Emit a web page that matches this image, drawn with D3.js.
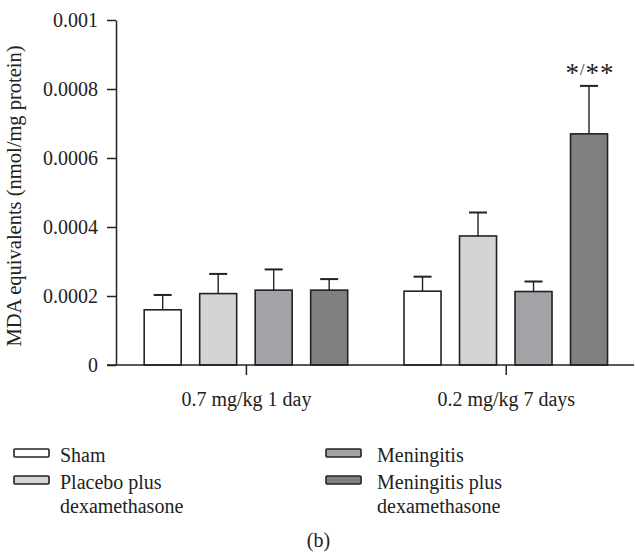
<!DOCTYPE html>
<html>
<head>
<meta charset="utf-8">
<script src="https://cdn.jsdelivr.net/npm/d3@7/dist/d3.min.js"></script>
<style>
  html, body { margin: 0; padding: 0; background: #fff; }
  svg { display: block; }
  text { font-family: "Liberation Serif", "Times New Roman", serif; fill: #222; }
</style>
</head>
<body>
<svg id="chart" width="635" height="559"></svg>
<script>
// ---- data ----
const groups = ["0.7 mg/kg 1 day", "0.2 mg/kg 7 days"];
const series = ["Sham", "Placebo plus dexamethasone", "Meningitis", "Meningitis plus dexamethasone"];
const legendLines = [["Sham"], ["Placebo plus", "dexamethasone"], ["Meningitis"], ["Meningitis plus", "dexamethasone"]];
const shamMean = [0.000160, 0.000214];
const placeboMean = [0.000207, 0.000374];
const meningitisMean = [0.000217, 0.000213];
const meningitisDexMean = [0.000217, 0.000670];
const shamErr = [0.000043, 0.000042];
const placeboErr = [0.000057, 0.000068];
const meningitisErr = [0.000060, 0.000029];
const meningitisDexErr = [0.000032, 0.000139];
const yTicks = [0, 0.0002, 0.0004, 0.0006, 0.0008, 0.001];
const yTickLabels = ["0", "0.0002", "0.0004", "0.0006", "0.0008", "0.001"];
const annotation = { group: "0.2 mg/kg 7 days", series: "Meningitis plus dexamethasone", parts: ["*", "/", "**"] };

const means = [shamMean, placeboMean, meningitisMean, meningitisDexMean];
const errs = [shamErr, placeboErr, meningitisErr, meningitisDexErr];
const colors = ["#ffffff", "#d4d4d4", "#a2a3a6", "#808080"];

const data = [];
groups.forEach((g, gi) => series.forEach((s, si) => {
  data.push({ group: g, series: s, si, value: means[si][gi], err: errs[si][gi] });
}));

// ---- layout ----
const svg = d3.select("#chart");
const axisX = 116, baseY = 365, topY = 20, rightX = 634;

const y = d3.scaleLinear().domain([0, 0.001]).range([baseY, topY]);
const x0 = d3.scalePoint().domain(groups).range([axisX, 635.7]).padding(0.5);
const x1 = d3.scaleBand().domain(series).range([-111, 111]).paddingInner(1/3).paddingOuter(1/6);

const ink = "#222";

// bars
svg.append("g").selectAll("rect").data(data).join("rect")
  .attr("x", d => x0(d.group) + x1(d.series))
  .attr("y", d => y(d.value))
  .attr("width", x1.bandwidth())
  .attr("height", d => y(0) - y(d.value))
  .attr("fill", d => colors[d.si])
  .attr("stroke", ink)
  .attr("stroke-width", 1.6);

// error bars
const eg = svg.append("g");
eg.selectAll("line.stem").data(data).join("line")
  .attr("class", "stem")
  .attr("x1", d => x0(d.group) + x1(d.series) + x1.bandwidth() / 2)
  .attr("x2", d => x0(d.group) + x1(d.series) + x1.bandwidth() / 2)
  .attr("y1", d => y(d.value))
  .attr("y2", d => y(d.value + d.err))
  .attr("stroke", ink).attr("stroke-width", 1.4);
eg.selectAll("line.cap").data(data).join("line")
  .attr("class", "cap")
  .attr("x1", d => x0(d.group) + x1(d.series) + x1.bandwidth() / 2 - 9)
  .attr("x2", d => x0(d.group) + x1(d.series) + x1.bandwidth() / 2 + 9)
  .attr("y1", d => y(d.value + d.err))
  .attr("y2", d => y(d.value + d.err))
  .attr("stroke", ink).attr("stroke-width", 2);

// y axis
const yAxis = d3.axisLeft(y).tickValues(yTicks).tickFormat((d, i) => yTickLabels[i])
  .tickSizeInner(9).tickSizeOuter(0).tickPadding(9);
const yg = svg.append("g").attr("transform", `translate(${axisX},0)`).call(yAxis);
yg.attr("font-family", null);
yg.select(".domain").attr("stroke", ink).attr("stroke-width", 1.5);
yg.selectAll(".tick line").attr("stroke", ink).attr("stroke-width", 1.5);
yg.selectAll(".tick text").attr("font-size", 20).attr("fill", ink);

// x axis
svg.append("line").attr("x1", 107).attr("x2", rightX).attr("y1", baseY).attr("y2", baseY)
  .attr("stroke", ink).attr("stroke-width", 1.5);
const xAxis = d3.axisBottom(x0).tickSizeInner(10).tickSizeOuter(0).tickPadding(17);
const xg = svg.append("g").attr("transform", `translate(0,${baseY})`).call(xAxis);
xg.attr("font-family", null);
xg.select(".domain").remove();
xg.selectAll(".tick line").attr("stroke", ink).attr("stroke-width", 1.5);
xg.selectAll(".tick text").attr("font-size", 20).attr("fill", ink);

// y label
svg.append("text")
  .attr("transform", `translate(21,196) rotate(-90)`)
  .attr("text-anchor", "middle")
  .attr("font-size", 20.5)
  .text("MDA equivalents (nmol/mg protein)");

// annotation
const ad = data.find(d => d.group === annotation.group && d.series === annotation.series);
const at = svg.append("text")
  .attr("x", x0(ad.group) + x1(ad.series) + x1.bandwidth() / 2 + 1)
  .attr("y", y(ad.value + ad.err) - 4)
  .attr("text-anchor", "middle")
  .attr("font-size", 27)
  .attr("fill", "#333");
at.append("tspan").attr("letter-spacing", 1).text(annotation.parts[0]);
at.append("tspan").attr("font-size", 16).attr("dy", -7).attr("letter-spacing", 1).text(annotation.parts[1]);
at.append("tspan").attr("dy", 7).attr("letter-spacing", 1).text(annotation.parts[2]);

// legend
const legPos = [
  { sx: 14, tx: 60, y: 462 },
  { sx: 14, tx: 60, y: 489 },
  { sx: 326, tx: 377, y: 462 },
  { sx: 326, tx: 377, y: 489 }
];
series.forEach((s, i) => {
  const p = legPos[i];
  svg.append("rect").attr("x", p.sx).attr("y", p.y - 13).attr("width", 35).attr("height", 8)
    .attr("fill", colors[i]).attr("stroke", ink).attr("stroke-width", 1.6).attr("rx", 1);
  const t = svg.append("text").attr("x", p.tx).attr("y", p.y).attr("font-size", 20);
  legendLines[i].forEach((ln, k) => {
    t.append("tspan").attr("x", p.tx).attr("dy", k === 0 ? 0 : 24).text(ln);
  });
});

// panel label
svg.append("text").attr("x", 318.5).attr("y", 547).attr("text-anchor", "middle")
  .attr("font-size", 20).text("(b)");
</script>
</body>
</html>
